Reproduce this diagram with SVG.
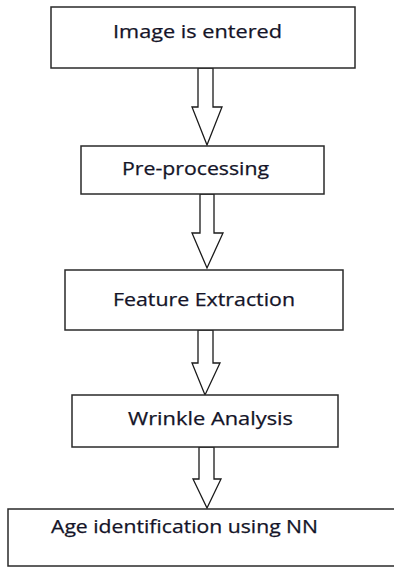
<svg xmlns="http://www.w3.org/2000/svg" width="394" height="567" viewBox="0 0 394 567">
<style>
.box{fill:#fff;stroke:#2a2a2a;stroke-width:1.5}
.arr{fill:#fff;stroke:#1a1a1a;stroke-width:1.3;stroke-linejoin:miter}
.t{font-family:"Open Sans","Noto Sans",sans-serif;font-size:18px;fill:#141428;stroke:#141428;stroke-width:0.25}
</style>
<rect width="394" height="567" fill="#fff"/>
<g id="connectors">
<polygon class="arr" points="198,68 213,68 213,107 222,107 207,145 192,107 198,107"/>
<polygon class="arr" points="200,194 214,194 214,233 223,233 207,268 192,233 200,233"/>
<polygon class="arr" points="198,330 213,330 213,363 220,363 205,395 192,363 198,363"/>
<polygon class="arr" points="199,447 214,447 214,479 221,479 207,508 193,479 199,479"/>
</g>
<g id="n1"><rect class="box" x="51" y="7" width="304" height="61"/><text class="t" x="113" y="38" textLength="169" lengthAdjust="spacingAndGlyphs">Image is entered</text></g>
<g id="n2"><rect class="box" x="81" y="146" width="243" height="48"/><text class="t" x="122" y="175" textLength="147" lengthAdjust="spacingAndGlyphs">Pre-processing</text></g>
<g id="n3"><rect class="box" x="65" y="270" width="278" height="60"/><text class="t" x="113" y="306" textLength="182" lengthAdjust="spacingAndGlyphs">Feature Extraction</text></g>
<g id="n4"><rect class="box" x="72" y="395" width="266" height="52"/><text class="t" x="128" y="425" textLength="165" lengthAdjust="spacingAndGlyphs">Wrinkle Analysis</text></g>
<g id="n5"><rect class="box" x="8" y="509" width="390" height="57"/><text class="t" x="51" y="533" textLength="267" lengthAdjust="spacingAndGlyphs">Age identification using NN</text></g>
</svg>
